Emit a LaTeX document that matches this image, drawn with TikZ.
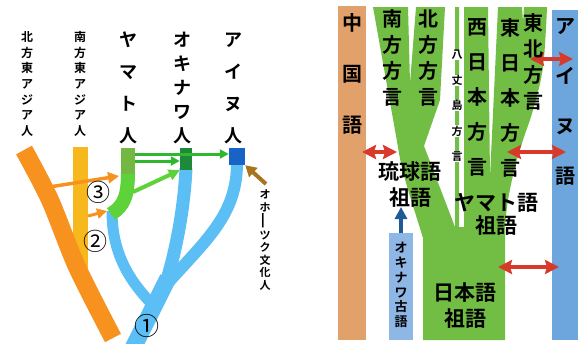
\documentclass[tikz,border=0pt]{standalone}
\usepackage{fontspec}
\usetikzlibrary{arrows.meta}
\newfontfamily\jp{Noto Sans CJK JP}[BoldFont={Noto Sans CJK JP Bold}]
\definecolor{orc}{HTML}{F7921E}
\definecolor{yelc}{HTML}{F6B81C}
\definecolor{bluc}{HTML}{5BBEF5}
\definecolor{yamc}{HTML}{73B843}
\definecolor{gbandc}{HTML}{5DD239}
\definecolor{okic}{HTML}{1C8A3A}
\definecolor{ainc}{HTML}{1A63C6}
\definecolor{garrc}{HTML}{2DB82D}
\definecolor{brnc}{HTML}{A8741E}
\definecolor{chinac}{HTML}{E2A06B}
\definecolor{ainbarc}{HTML}{6CA6DD}
\definecolor{oldokc}{HTML}{8EB7E6}
\definecolor{treec}{HTML}{72BE45}
\definecolor{redc}{HTML}{D8392B}
\definecolor{dbluc}{HTML}{1E5A96}
\newcommand\wbg[1]{\colorbox{white}{#1}}
\tikzset{
  lbl/.style={inner sep=0pt, align=center, text=black},
  sq/.style={inner sep=0pt, minimum width=#1},
  garr/.style={draw=garrc, line width=3pt, -{Triangle[length=9pt,width=9pt]}},
  redarr/.style={draw=redc, line width=4pt, {Stealth[length=14pt,width=14pt,inset=2pt]}-{Stealth[length=14pt,width=14pt,inset=2pt]}},
}
\begin{document}
\begin{tikzpicture}[x=1pt,y=-1pt]
\useasboundingbox (0,0) rectangle (580,343);
% ================= left panel =================
\draw[yelc, line width=15pt] (80.5,147) -- (80.5,268);
\draw[orc, line width=18pt] plot[smooth] coordinates {(24,150) (50,200) (77,267) (113,338)};
% blue tree
\draw[bluc, line width=11pt] (151,303) .. controls (125,276) and (112,248) .. (112,211);
\draw[bluc, line width=13pt] (166,283) .. controls (176,250) and (184,210) .. (186,168);
\draw[bluc, line width=12pt] (166,285) .. controls (206,240) and (237,215) .. (237,163);
\draw[bluc, line width=17pt] (133,348) -- (168,278);
% green band of Yamato
\draw[gbandc, line width=14pt] (128,172) .. controls (128,196) and (124,206) .. (111,214);
% squares
\node[sq=14pt, minimum height=26pt, fill=yamc] (yam) at (128,161) {};
\node[sq=12pt, minimum height=22pt, fill=okic] (oki) at (186,159) {};
\node[sq=16pt, minimum height=17pt, fill=ainc] (ain) at (237,156.5) {};
% arrows
\coordinate (gb) at (133,192);
\coordinate (or3) at (43,188);
\coordinate (or3t) at (119,176);
\coordinate (yl2) at (88,216);
\coordinate (yl2t) at (107,211);
\coordinate (ohk) at (266,184);
\draw[garr] ([yshift=7pt]yam.east) -- ([yshift=2.5pt]ain.west);
\draw[garr] (yam.east) -- ([yshift=-2pt]oki.west);
\draw[draw=gbandc, line width=4pt, -{Triangle[length=11pt,width=11pt]}] (gb) -- (oki.south west);
\draw[draw=orc, line width=3.5pt, -{Triangle[length=11pt,width=11pt]}] (or3) -- (or3t);
\draw[draw=orc, line width=3pt, -{Triangle[length=10pt,width=10pt]}] (yl2) -- (yl2t);
\draw[draw=brnc, line width=4pt, -{Triangle[length=11pt,width=12pt]}] (ohk) -- (ain.south east);
% labels
\node[lbl, font=\jp\bfseries\fontsize{12}{15.7}\selectfont] (nea) at (27,84) {北\\方\\東\\ア\\ジ\\ア\\人};
\node[lbl, font=\jp\bfseries\fontsize{12}{15.7}\selectfont] (sea) at (80,84) {南\\方\\東\\ア\\ジ\\ア\\人};
\node[lbl, font=\jp\bfseries\fontsize{18}{32}\selectfont] (yamt) at (128,88) {ヤ\\マ\\ト\\人};
\node[lbl, font=\jp\bfseries\fontsize{18}{24}\selectfont] (okit) at (182,88) {オ\\キ\\ナ\\ワ\\人};
\node[lbl, font=\jp\bfseries\fontsize{18}{32}\selectfont] (aint) at (233,88) {ア\\イ\\ヌ\\人};
\node[lbl, font=\jp\bfseries\fontsize{11}{12.5}\selectfont] (ohkt) at (265,240) {オ\\ホ\\\rotatebox[origin=c]{90}{\scalebox{1.6}[1]{ー}}\\ツ\\ク\\文\\化\\人};
\node[lbl, font=\jp\fontsize{25}{25}\selectfont] (n1) at (147,326) {①};
\node[lbl, font=\jp\fontsize{24}{24}\selectfont] (n2) at (95,241) {②};
\node[lbl, font=\jp\fontsize{24}{24}\selectfont] (n3) at (98,192) {③};
% ================= right panel =================
\fill[chinac] (338,6) rectangle (366,340);
\fill[ainbarc] (552,10) rectangle (578,340);
\node[sq=24pt, minimum height=107pt, fill=oldokc, anchor=north] (oldok) at (401,233) {};
\fill[treec] (423,340) -- (423,238) .. controls (413,205) and (402,175) .. (398,147)
  -- (373,7) -- (408,7) -- (410,83) -- (416,7) -- (445,7) -- (440,100) -- (424,146)
  -- (455,227) -- (455,7) -- (459,7) -- (459,227) -- (464,227) -- (464,7) -- (488,7)
  -- (490,177) -- (498,7) -- (522,7) -- (523,22) -- (524,7) -- (547,7)
  -- plot[smooth, tension=0.6] coordinates {(547,7) (543,67) (533,110) (523,140) (515,167) (508,200) (505,227)}
  -- (505,340) -- cycle;
% red double arrows
\coordinate (r1a) at (362,152); \coordinate (r1b) at (397,152);
\coordinate (r2a) at (530,59);  \coordinate (r2b) at (573,59);
\coordinate (r3a) at (507,152); \coordinate (r3b) at (566,152);
\coordinate (r4a) at (498,267); \coordinate (r4b) at (559,267);
\draw[redarr] (r1a) -- (r1b);
\draw[redarr] (r2a) -- (r2b);
\draw[redarr] (r3a) -- (r3b);
\draw[redarr] (r4a) -- (r4b);
% up arrow
\coordinate (ryut) at (401,207);
\draw[draw=dbluc, line width=4pt, -{Triangle[length=12pt,width=12pt]}] (oldok.north) -- (ryut);
% texts
\node[lbl, font=\jp\bfseries\fontsize{20}{51}\selectfont] (chn) at (352,73.5) {中\\国\\語};
\node[lbl, font=\jp\bfseries\fontsize{20}{26}\selectfont] (nanp) at (392,58) {南\\方\\方\\言};
\node[lbl, font=\jp\bfseries\fontsize{20}{26}\selectfont] (hokp) at (428,58) {北\\方\\方\\言};
\node[lbl, font=\jp\bfseries\fontsize{20}{35}\selectfont] (nishi) at (477,97.5) {西\\日\\本\\方\\言};
\node[lbl, font=\jp\bfseries\fontsize{20}{35}\selectfont] (higa) at (510,97.5) {東\\日\\本\\方\\言};
\node[lbl, font=\jp\bfseries\fontsize{20}{26}\selectfont] (toho) at (533,61.5) {東\\北\\方\\言};
\node[lbl, font=\jp\bfseries\fontsize{20}{50}\selectfont] (ainug) at (565,102) {ア\\イ\\ヌ\\語};
\node[lbl, font=\jp\bfseries\fontsize{11}{25.5}\selectfont, /utils/exec={\setlength\fboxsep{0.6pt}}] (hachi) at (457,106) {\wbg{八}\\\wbg{丈}\\\wbg{島}\\\wbg{方}\\\wbg{言}};
\node[lbl, font=\jp\bfseries\fontsize{13}{14.8}\selectfont] (oldokt) at (401,285) {オ\\キ\\ナ\\ワ\\古\\語};
\node[lbl, font=\jp\bfseries\fontsize{21}{26}\selectfont] (ryu) at (410,185) {琉球語\\祖語};
\node[lbl, font=\jp\bfseries\fontsize{21}{23}\selectfont] (yamg) at (496,214.5) {ヤマト語\\祖語};
\node[lbl, font=\jp\bfseries\fontsize{21}{26}\selectfont] (nihon) at (465,306) {日本語\\祖語};
\end{tikzpicture}
\end{document}
